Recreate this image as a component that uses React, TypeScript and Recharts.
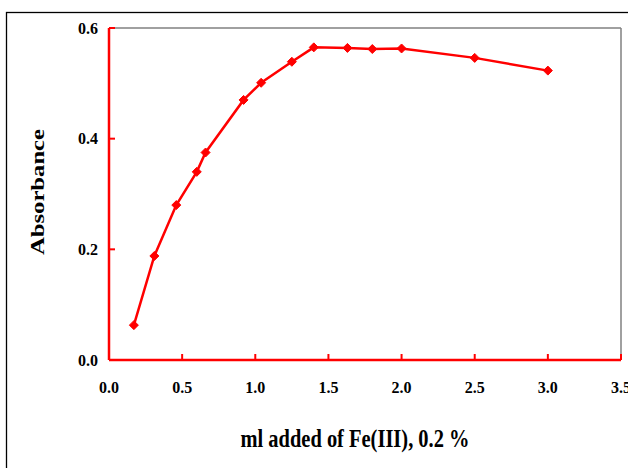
import { LineChart, Line, XAxis, YAxis, ReferenceLine } from 'recharts'

const feAdded = [0.17, 0.31, 0.46, 0.6, 0.66, 0.92, 1.04, 1.25, 1.4, 1.63, 1.8, 2.0, 2.5, 3.0]
const absorbance = [0.063, 0.188, 0.28, 0.34, 0.375, 0.47, 0.501, 0.539, 0.565, 0.564, 0.562, 0.563, 0.546, 0.523]
const xTicks = [0, 0.5, 1, 1.5, 2, 2.5, 3, 3.5]
const yTicks = [0, 0.2, 0.4, 0.6]

const data = feAdded.map((x, i) => ({ x, y: absorbance[i] }))

const serif = '"Liberation Serif", "Times New Roman", serif'
const red = '#ff0000'
const TICK_LEN = 6
const X_GAP = 22
const Y_GAP = 11

function Diamond(props: any) {
  const { cx, cy, index } = props
  if (cx == null || cy == null) return null
  const r = 4.5
  return (
    <path
      key={`d-${index}`}
      d={`M${cx},${cy - r}L${cx + r},${cy}L${cx},${cy + r}L${cx - r},${cy}Z`}
      fill={red}
      stroke={red}
      strokeWidth={1}
    />
  )
}

// ticks point into the plot, so draw the tick mark together with the label
function BottomTick(props: any) {
  const { x, y, payload } = props
  const axisY = y - X_GAP
  return (
    <g>
      <line x1={x} x2={x} y1={axisY} y2={axisY - TICK_LEN} stroke={red} strokeWidth={2} />
      <text x={x} y={y + 11} textAnchor="middle" fill="#000" fontFamily={serif} fontWeight="bold" fontSize={16}>
        {Number(payload.value).toFixed(1)}
      </text>
    </g>
  )
}

function LeftTick(props: any) {
  const { x, y, payload } = props
  const axisX = x + Y_GAP
  return (
    <g>
      <line x1={axisX} x2={axisX + TICK_LEN} y1={y} y2={y} stroke={red} strokeWidth={2} />
      <text x={x} y={y + 5.5} textAnchor="end" fill="#000" fontFamily={serif} fontWeight="bold" fontSize={16}>
        {Number(payload.value).toFixed(1)}
      </text>
    </g>
  )
}

export default function App() {
  return (
    <div style={{ position: 'absolute', left: 0, top: 0, width: 628, height: 468, background: '#fff' }}>
      <LineChart width={628} height={468} data={data} margin={{ top: 28, right: 7, bottom: 0, left: 0 }}>
        {/* outer frame, runs off the right and bottom edges */}
        <rect x={6.5} y={12.5} width={700} height={600} fill="none" stroke="#000" strokeWidth={1.3} />
        <ReferenceLine y={0.6} stroke="#808080" strokeWidth={1.5} />
        <ReferenceLine x={3.5} stroke="#808080" strokeWidth={1.5} />
        <XAxis
          dataKey="x"
          type="number"
          domain={[0, 3.5]}
          ticks={xTicks}
          interval={0}
          height={108}
          axisLine={{ stroke: red, strokeWidth: 2.5 }}
          tickLine={false}
          tickSize={0}
          tickMargin={X_GAP}
          tick={<BottomTick />}
        />
        <YAxis
          type="number"
          domain={[0, 0.6]}
          ticks={yTicks}
          interval={0}
          width={109}
          axisLine={{ stroke: red, strokeWidth: 2.5 }}
          tickLine={false}
          tickSize={0}
          tickMargin={Y_GAP}
          tick={<LeftTick />}
        />
        <Line
          dataKey="y"
          type="linear"
          stroke={red}
          strokeWidth={2.5}
          dot={Diamond}
          activeDot={false}
          isAnimationActive={false}
        />
        <text
          x={355}
          y={447}
          textAnchor="middle"
          fontFamily={serif}
          fontWeight="bold"
          fontSize={25}
          textLength={229}
          lengthAdjust="spacingAndGlyphs"
          fill="#000"
        >
          ml added of Fe(III), 0.2 %
        </text>
        <text
          x={44}
          y={192}
          transform="rotate(-90 44 192)"
          textAnchor="middle"
          fontFamily={serif}
          fontWeight="bold"
          fontSize={18}
          textLength={126}
          lengthAdjust="spacingAndGlyphs"
          fill="#000"
        >
          Absorbance
        </text>
      </LineChart>
    </div>
  )
}
